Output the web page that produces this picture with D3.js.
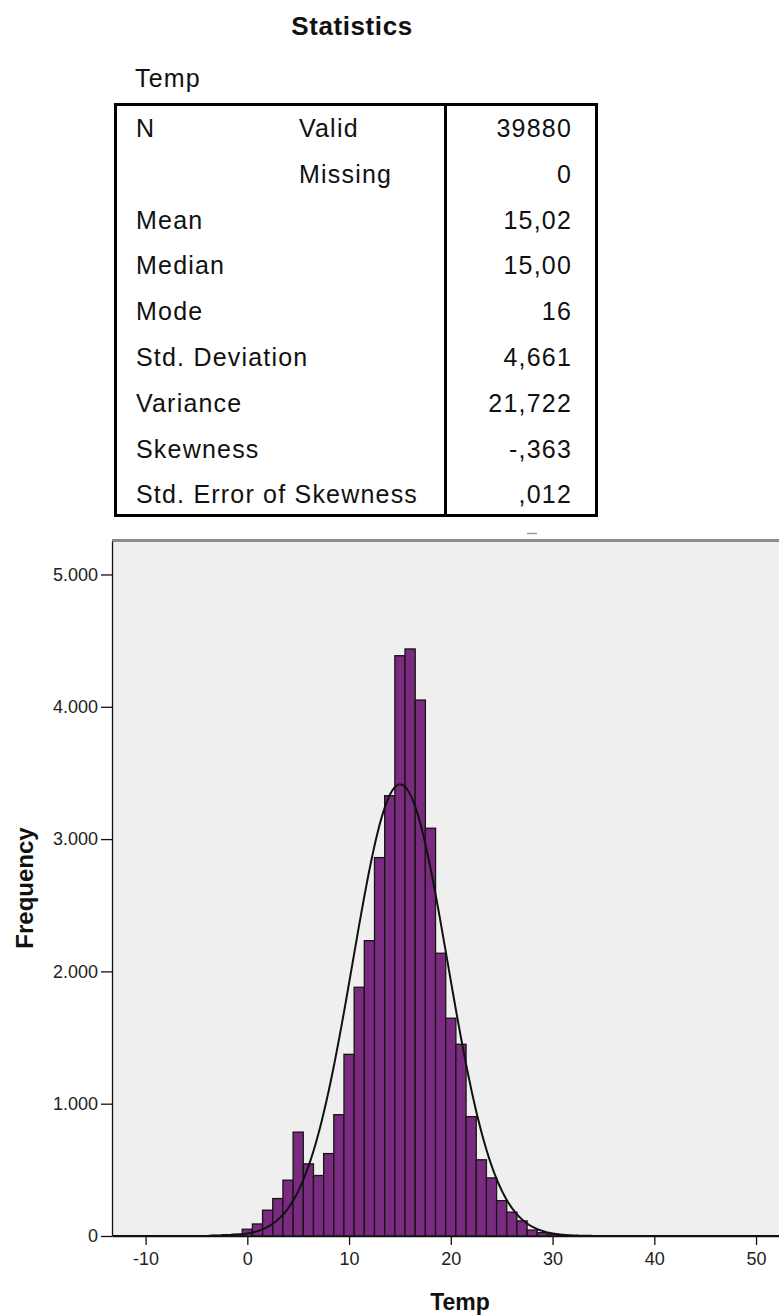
<!DOCTYPE html>
<html>
<head>
<meta charset="utf-8">
<script src="https://cdn.jsdelivr.net/npm/d3@7"></script>
<style>
  body { margin: 0; background: #fff; }
  svg { display: block; font-family: "Liberation Sans", Arial, sans-serif; }
</style>
</head>
<body>
<div id="chart"></div>
<script>
// Statistics table
const statNames  = ["N", "", "Mean", "Median", "Mode", "Std. Deviation", "Variance", "Skewness", "Std. Error of Skewness"];
const statSub    = ["Valid", "Missing", "", "", "", "", "", "", ""];
const statValues = ["39880", "0", "15,02", "15,00", "16", "4,661", "21,722", "-,363", ",012"];

// Normal curve parameters (from the table)
const nValid = 39880, meanTemp = 15.02, sdTemp = 4.661;

// Histogram: bin centres (width 1) and frequencies
const binCenters = [-3, -2, -1, 0, 1, 2, 3, 4, 5, 6, 7, 8, 9, 10, 11, 12, 13, 14, 15, 16,
                    17, 18, 19, 20, 21, 22, 23, 24, 25, 26, 27, 28, 29, 30, 31];
const binCounts  = [6, 10, 14, 51, 91, 195, 283, 422, 785, 545, 457, 623, 917, 1373, 1880, 2232, 2860, 3328, 4386, 4437,
                    4051, 3082, 2137, 1646, 1449, 902, 576, 439, 267, 180, 114, 45, 25, 15, 5];

const xTicks = [-10, 0, 10, 20, 30, 40, 50];
const yTicks = [0, 1000, 2000, 3000, 4000, 5000];

const W = 779, H = 1316;
const svg = d3.select("#chart").append("svg")
    .attr("width", W)
    .attr("height", H);

// ---- table ----
svg.append("text")
    .attr("x", 352).attr("y", 35)
    .attr("text-anchor", "middle")
    .style("font-size", "26px").style("font-weight", "bold")
    .style("letter-spacing", "0.6px")
    .attr("fill", "#111")
    .text("Statistics");

svg.append("text")
    .attr("x", 135).attr("y", 87)
    .style("font-size", "25px").style("letter-spacing", "1.2px")
    .attr("fill", "#111")
    .text("Temp");

const rowY = d3.scaleLinear().domain([0, 1]).range([137, 182.8]);
const table = svg.append("g")
    .style("font-size", "25px").style("letter-spacing", "1.2px")
    .attr("fill", "#111");

table.selectAll(".lab").data(statNames).enter().append("text")
    .attr("x", 136).attr("y", (d, i) => rowY(i)).text(d => d);
table.selectAll(".sub").data(statSub).enter().append("text")
    .attr("x", 299).attr("y", (d, i) => rowY(i)).text(d => d);
table.selectAll(".val").data(statValues).enter().append("text")
    .attr("x", 572).attr("y", (d, i) => rowY(i))
    .attr("text-anchor", "end").text(d => d);

svg.append("rect")
    .attr("x", 115.5).attr("y", 104.5)
    .attr("width", 481).attr("height", 411)
    .attr("fill", "none").attr("stroke", "#000").attr("stroke-width", 3);
svg.append("line")
    .attr("x1", 445.5).attr("x2", 445.5).attr("y1", 104.5).attr("y2", 515.5)
    .attr("stroke", "#000").attr("stroke-width", 3);

// small leftover mark under the table
svg.append("line")
    .attr("x1", 527).attr("x2", 537).attr("y1", 533.5).attr("y2", 533.5)
    .attr("stroke", "#9a9a9a").attr("stroke-width", 1.5);

// ---- histogram ----
const x = d3.scaleLinear().domain([-13.3, 55.5]).range([112, 812]);
const y = d3.scaleLinear().domain([0, 5253]).range([1236, 541]);

svg.append("defs").append("clipPath").attr("id", "plotclip")
  .append("rect").attr("x", 112).attr("y", 541).attr("width", 700).attr("height", 695);

svg.append("rect")
    .attr("x", 112).attr("y", 541)
    .attr("width", 700).attr("height", 695)
    .attr("fill", "#efefef");

svg.append("line")
    .attr("x1", 112).attr("x2", 812).attr("y1", 540.5).attr("y2", 540.5)
    .attr("stroke", "#8c8c8c").attr("stroke-width", 3);

const plot = svg.append("g").attr("clip-path", "url(#plotclip)");

plot.selectAll(".bar")
    .data(binCenters)
  .enter().append("rect")
    .attr("class", "bar")
    .attr("x", d => x(d - 0.5))
    .attr("width", d => x(d + 0.5) - x(d - 0.5))
    .attr("y", (d, i) => y(binCounts[i]))
    .attr("height", (d, i) => y(0) - y(binCounts[i]))
    .attr("fill", "#7b2b7f")
    .attr("stroke", "#151515")
    .attr("stroke-width", 1.3);

// fitted normal curve (bin width 1)
const curveX = d3.range(-13.3, 55.6, 0.1);
const normal = v => nValid / (sdTemp * Math.sqrt(2 * Math.PI)) * Math.exp(-0.5 * ((v - meanTemp) / sdTemp) ** 2);
plot.append("path")
    .datum(curveX)
    .attr("fill", "none")
    .attr("stroke", "#111")
    .attr("stroke-width", 2)
    .attr("d", d3.line().x(d => x(d)).y(d => y(normal(d))));

// axes
const fmt = d3.formatLocale({decimal: ",", thousands: ".", grouping: [3], currency: ["", ""]}).format(",");

const yAxis = svg.append("g")
    .attr("transform", "translate(112,0)")
    .call(d3.axisLeft(y).tickValues(yTicks).tickFormat(fmt).tickSize(11).tickSizeOuter(0).tickPadding(3));
yAxis.select(".domain").attr("stroke", "#111").attr("stroke-width", 1.3);
yAxis.selectAll(".tick line").attr("stroke", "#111").attr("stroke-width", 1.3);
yAxis.selectAll("text").style("font-size", "18px").attr("fill", "#222")
    .style("font-family", "\"Liberation Sans\", Arial, sans-serif");

const xAxis = svg.append("g")
    .attr("transform", "translate(0,1236)")
    .call(d3.axisBottom(x).tickValues(xTicks).tickFormat(d => String(d)).tickSize(9).tickSizeOuter(0).tickPadding(7));
xAxis.select(".domain").attr("stroke", "#111").attr("stroke-width", 1.3);
xAxis.selectAll(".tick line").attr("stroke", "#111").attr("stroke-width", 1.3);
xAxis.selectAll("text").style("font-size", "18px").attr("fill", "#222")
    .style("font-family", "\"Liberation Sans\", Arial, sans-serif");

// axis titles
svg.append("text")
    .attr("transform", "translate(33,888) rotate(-90)")
    .attr("text-anchor", "middle")
    .style("font-size", "24px").style("font-weight", "bold")
    .attr("fill", "#111")
    .text("Frequency");

svg.append("text")
    .attr("x", 460).attr("y", 1310)
    .attr("text-anchor", "middle")
    .style("font-size", "23px").style("font-weight", "bold")
    .attr("fill", "#111")
    .text("Temp");
</script>
</body>
</html>
